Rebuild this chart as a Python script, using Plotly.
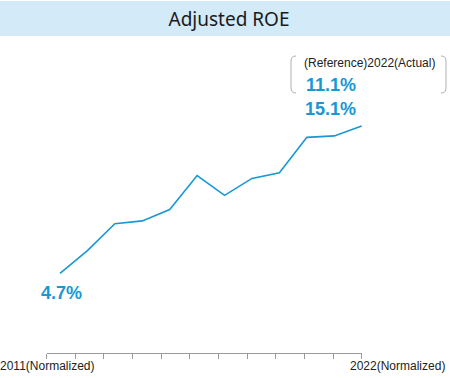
import plotly.graph_objects as go

years = list(range(2011, 2023))
roe = [4.7, 6.3, 8.2, 8.4, 9.2, 11.6, 10.2, 11.4, 11.8, 14.3, 14.4, 15.1]
tick_positions = list(range(12))
first_label = "4.7%"
last_label = "15.1%"
ref_label = "11.1%"
ref_caption = "(Reference)2022(Actual)"
left_axis_label = "2011(Normalized)"
right_axis_label = "2022(Normalized)"
title_text = "Adjusted ROE"

W, H = 450, 378
BLUE = "#1798d5"

fig = go.Figure()
fig.add_trace(go.Scatter(x=years, y=roe, mode="lines",
                         line=dict(color=BLUE, width=1.6), hoverinfo="skip",
                         showlegend=False))
# dummy trace for tick axis
fig.add_trace(go.Scatter(x=[None], y=[None], xaxis="x2", yaxis="y",
                         showlegend=False, hoverinfo="skip"))

px_per_year = (361.7 - 60) / 11
x0 = 2011 - 60 / px_per_year
x1 = 2011 + (W - 60) / px_per_year
px_per_pct = (273.3 - 126) / (15.1 - 4.7)
y_top = 4.7 + 273.3 / px_per_pct
y_bot = 4.7 - (H - 273.3) / px_per_pct

fig.update_layout(
    width=W, height=H,
    margin=dict(l=0, r=0, t=0, b=0),
    paper_bgcolor="white", plot_bgcolor="rgba(0,0,0,0)",
    font=dict(family="Liberation Sans, Arial, sans-serif"),
    xaxis=dict(range=[x0, x1], visible=False, fixedrange=True),
    yaxis=dict(range=[y_bot, y_top], visible=False, fixedrange=True),
    xaxis2=dict(domain=[46.7 / W, 361.7 / W], range=[0, 11], anchor="free",
                position=1 - 353.3 / H, showline=True, linecolor="#9a9a9a",
                linewidth=1, ticks="outside", ticklen=5, tickcolor="#9a9a9a",
                tickwidth=1, tickvals=tick_positions, showticklabels=False,
                showgrid=False, zeroline=False, fixedrange=True),
    title=dict(text=title_text, x=229 / W, xanchor="center",
               y=1 - 19 / H, yanchor="middle",
               font=dict(family="Noto Sans, Open Sans, sans-serif", size=19, color="#1a1a1a")),
    shapes=[
        dict(type="rect", xref="paper", yref="paper", x0=0, x1=1,
             y0=1 - 36 / H, y1=1 - 1 / H, fillcolor="#d3eaf9", line=dict(width=0),
             layer="below"),
        dict(type="path", xref="paper", yref="paper",
             path=f"M {296/W},{1-56/H} Q {291/W},{1-56/H} {291/W},{1-61/H} L {291/W},{1-88/H} Q {291/W},{1-93/H} {296/W},{1-93/H}",
             line=dict(color="#b0b0b0", width=1)),
        dict(type="path", xref="paper", yref="paper",
             path=f"M {441/W},{1-56/H} Q {446/W},{1-56/H} {446/W},{1-61/H} L {446/W},{1-88/H} Q {446/W},{1-93/H} {441/W},{1-93/H}",
             line=dict(color="#b0b0b0", width=1)),
    ],
)

bold = dict(family="Liberation Sans, Arial, sans-serif", size=18, color=BLUE)
ann = []
ann.append(dict(x=years[0], y=roe[0], xref="x", yref="y", text=f"<b>{first_label}</b>",
                showarrow=False, xanchor="center", yanchor="middle",
                xshift=1.3, yshift=-19.5, font=bold))
ann.append(dict(x=years[-1], y=roe[-1], xref="x", yref="y", text=f"<b>{last_label}</b>",
                showarrow=False, xanchor="right", yanchor="middle",
                xshift=-3.4, yshift=17, font=bold))
ann.append(dict(x=years[-1], y=roe[-1], xref="x", yref="y", text=f"<b>{ref_label}</b>",
                showarrow=False, xanchor="right", yanchor="middle",
                xshift=-3.4, yshift=41, font=bold))
ann.append(dict(x=369.5 / W, y=1 - 63 / H, xref="paper", yref="paper", text=ref_caption,
                showarrow=False, xanchor="center", yanchor="middle",
                font=dict(family="Liberation Sans, Arial, sans-serif", size=12, color="#222222")))
ann.append(dict(x=0, y=1 - 366 / H, xref="x2", yref="paper", text=left_axis_label,
                showarrow=False, xanchor="center", yanchor="middle",
                font=dict(family="Liberation Sans, Arial, sans-serif", size=12, color="#222222")))
ann.append(dict(x=11, y=1 - 366 / H, xref="x2", yref="paper", text=right_axis_label,
                showarrow=False, xanchor="left", yanchor="middle", xshift=-14,
                font=dict(family="Liberation Sans, Arial, sans-serif", size=12, color="#222222")))
fig.update_layout(annotations=ann)

fig.write_html("out.html", config={"displayModeBar": False},
               post_script="document.body.style.margin='0';document.body.style.overflow='hidden';")
